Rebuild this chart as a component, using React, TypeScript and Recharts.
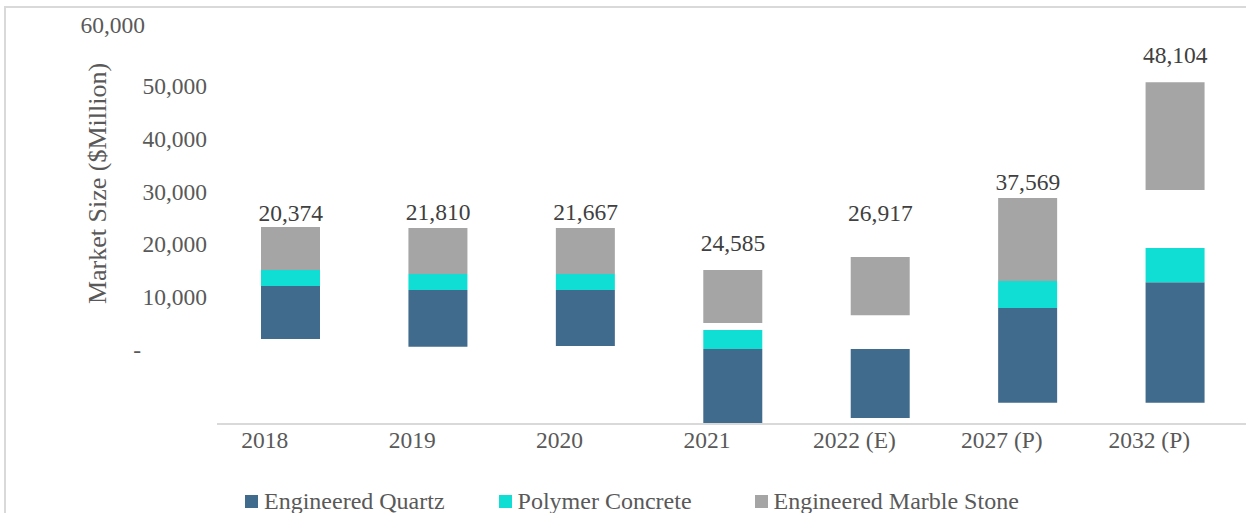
import React from 'react';
import { ComposedChart, Bar, Line, XAxis, YAxis, LabelList, Legend } from 'recharts';

const categories = ['2018', '2019', '2020', '2021', '2022 (E)', '2027 (P)', '2032 (P)'];
const quartzRange: ([number, number] | null)[] = [
  [2100, 12100], [600, 11350], [750, 11350], [-13800, 200], [-12850, 200], [-10000, 7950], [-10000, 12850],
];
const polymerRange: ([number, number] | null)[] = [
  [12100, 15150], [11350, 14400], [11350, 14400], [200, 3800], null, [7950, 13050], [12850, 19300],
];
const marbleRange: ([number, number] | null)[] = [
  [15150, 23300], [14400, 23100], [14400, 23100], [5100, 15150], [6600, 17600], [13050, 28750], [30300, 50700],
];
const totalLabels = ['20,374', '21,810', '21,667', '24,585', '26,917', '37,569', '48,104'];
const labelAnchor = [25900, 26100, 26100, 20250, 25900, 31800, 55800];
const yTicks = [0, 10000, 20000, 30000, 40000, 50000, 60000];

const seriesNames = ['Engineered Quartz', 'Polymer Concrete', 'Engineered Marble Stone'];
const seriesColors = ['#416B8D', '#10DED4', '#A5A5A5'];

const data = categories.map((c, i) => ({
  category: c,
  quartz: quartzRange[i],
  polymer: polymerRange[i],
  marble: marbleRange[i],
  anchor: labelAnchor[i],
  total: totalLabels[i],
}));

const FONT = '"Liberation Serif", "Times New Roman", serif';
const TICK_COLOR = '#595959';

const fmt = (v: number) => (v === 0 ? '-' : v.toLocaleString('en-US'));

const YTick = (props: any) => {
  const { x, y, payload } = props;
  const v = payload.value;
  let dx = 0;
  let dy = 0;
  if (v === 0) dx = -66;
  if (v === 60000) {
    dx = -62;
    dy = -8;
  }
  return (
    <text x={x + dx} y={y + dy} textAnchor="end" dominantBaseline="central" fill={TICK_COLOR} fontSize={23.5} fontFamily={FONT}>
      {fmt(v)}
    </text>
  );
};

const XTick = (props: any) => {
  const { x, y, payload } = props;
  return (
    <text x={x - 26} y={y} dy="0.71em" textAnchor="middle" fill={TICK_COLOR} fontSize={23.5} fontFamily={FONT}>
      {payload.value}
    </text>
  );
};

const TotalLabel = (props: any) => {
  const { x, y, value } = props;
  return (
    <text x={x} y={y} textAnchor="middle" dominantBaseline="central" fill="#404040" fontSize={23.5} fontFamily={FONT}>
      {value}
    </text>
  );
};

const YTitle = (props: any) => {
  const { viewBox } = props;
  const cx = (viewBox?.x ?? 0) + 97;
  const cy = 183.5;
  return (
    <text
      x={cx}
      y={cy}
      transform={`rotate(-90, ${cx}, ${cy})`}
      textAnchor="middle"
      dominantBaseline="central"
      fill={TICK_COLOR}
      fontSize={26}
      fontFamily={FONT}
    >
      Market Size ($Million)
    </text>
  );
};

const legendGaps = [54, 63, 0];

const LegendContent = () => (
  <div style={{ display: 'flex', alignItems: 'center', paddingLeft: 245, fontFamily: FONT, fontSize: 24, color: TICK_COLOR, lineHeight: '30px', whiteSpace: 'nowrap' }}>
    {seriesNames.map((n, i) => (
      <div key={n} style={{ display: 'flex', alignItems: 'center', marginRight: legendGaps[i] }}>
        <span style={{ display: 'inline-block', width: 13, height: 13, background: seriesColors[i], marginRight: 6 }} />
        <span>{n}</span>
      </div>
    ))}
  </div>
);

export default function App() {
  return (
    <div style={{ position: 'absolute', left: 0, top: 0, width: 1246, height: 513, overflow: 'hidden', background: '#fff' }}>
      <div
        style={{
          position: 'absolute',
          left: 4,
          top: 6,
          width: 1260,
          height: 520,
          borderLeft: '2px solid #D9D9D9',
          borderTop: '2px solid #D9D9D9',
        }}
      />
      <div style={{ position: 'absolute', left: 0, top: 0 }}>
        <ComposedChart
          width={1249}
          height={513}
          data={data}
          margin={{ top: 33, right: 0, bottom: 59, left: 0 }}
          barSize={59}
          barGap={-59}
        >
          <XAxis
            dataKey="category"
            tick={<XTick />}
            tickLine={false}
            tickMargin={1}
            axisLine={{ stroke: '#D9D9D9', strokeWidth: 2 }}
            interval={0}
          />
          <YAxis
            width={217}
            domain={[-14000, 60000]}
            ticks={yTicks}
            allowDataOverflow
            tick={<YTick />}
            tickLine={false}
            axisLine={false}
            tickMargin={4}
            label={<YTitle />}
          />
          <Legend layout="horizontal" verticalAlign="middle" content={<LegendContent />} wrapperStyle={{ top: 486, left: 0, width: 1246, height: 30 }} />
          <Bar dataKey="quartz" name={seriesNames[0]} fill={seriesColors[0]} isAnimationActive={false} />
          <Bar dataKey="polymer" name={seriesNames[1]} fill={seriesColors[1]} isAnimationActive={false} />
          <Bar dataKey="marble" name={seriesNames[2]} fill={seriesColors[2]} isAnimationActive={false} />
          <Line
            dataKey="anchor"
            stroke="none"
            dot={false}
            activeDot={false}
            legendType="none"
            isAnimationActive={false}
          >
            <LabelList dataKey="total" content={<TotalLabel />} />
          </Line>
        </ComposedChart>
      </div>
    </div>
  );
}
